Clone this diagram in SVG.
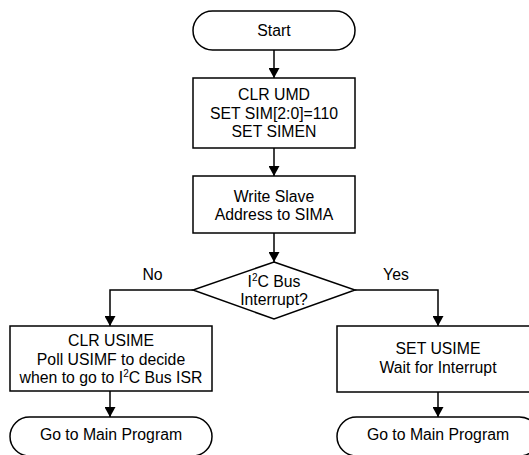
<svg xmlns="http://www.w3.org/2000/svg" width="529" height="455" viewBox="0 0 529 455">
<style>
.s{fill:#fff;stroke:#000;stroke-width:1.5}
.t{font-family:"Liberation Sans",Arial,sans-serif;font-size:15.8px;fill:#000;text-anchor:middle}
.c{fill:none;stroke:#000;stroke-width:1.5}
</style>
<defs>
<marker id="ah" markerUnits="userSpaceOnUse" markerWidth="11" markerHeight="11" refX="10" refY="5.5" orient="auto">
<path d="M0,0 L10,5.5 L0,11 z" fill="#000"/>
</marker>
</defs>
<rect width="529" height="455" fill="#fff"/>
<g id="connectors">
<line class="c" x1="274" y1="50" x2="274" y2="78" marker-end="url(#ah)"/>
<line class="c" x1="274" y1="148" x2="274" y2="176" marker-end="url(#ah)"/>
<line class="c" x1="274" y1="233" x2="274" y2="262" marker-end="url(#ah)"/>
<polyline class="c" points="193,290 110,290 110,326" marker-end="url(#ah)"/>
<polyline class="c" points="355,290 438,290 438,326" marker-end="url(#ah)"/>
<line class="c" x1="110" y1="391" x2="110" y2="417" marker-end="url(#ah)"/>
<line class="c" x1="438" y1="392" x2="438" y2="417" marker-end="url(#ah)"/>
<text class="t" x="152.5" y="280">No</text>
<text class="t" x="396" y="280">Yes</text>
</g>
<g id="start">
<rect class="s" x="193" y="11" width="162" height="39" rx="19.5"/>
<text class="t" x="274" y="36">Start</text>
</g>
<g id="init">
<rect class="s" x="193" y="78" width="162" height="70"/>
<text class="t" x="274" y="100">CLR UMD</text>
<text class="t" x="274" y="118.5">SET SIM[2:0]=110</text>
<text class="t" x="274" y="137">SET SIMEN</text>
</g>
<g id="addr">
<rect class="s" x="193" y="176" width="162" height="57"/>
<text class="t" x="274" y="201.5">Write Slave</text>
<text class="t" x="274" y="220">Address to SIMA</text>
</g>
<g id="decision">
<polygon class="s" points="274,262 355,290 274,319 193,290"/>
<text class="t" x="274" y="287">I<tspan font-size="10" dy="-6">2</tspan><tspan dy="6">C Bus</tspan></text>
<text class="t" x="274" y="305">Interrupt?</text>
</g>
<g id="poll">
<rect class="s" x="10" y="326" width="202" height="65"/>
<text class="t" x="111" y="346">CLR USIME</text>
<text class="t" x="111" y="364.5">Poll USIMF to decide</text>
<text class="t" x="111" y="383">when to go to I<tspan font-size="10" dy="-6">2</tspan><tspan dy="6">C Bus ISR</tspan></text>
</g>
<g id="wait">
<rect class="s" x="337" y="326" width="202" height="66"/>
<text class="t" x="438" y="354">SET USIME</text>
<text class="t" x="438" y="372.5">Wait for Interrupt</text>
</g>
<g id="main-left">
<rect class="s" x="10" y="417" width="202" height="39" rx="19.5"/>
<text class="t" x="111" y="440">Go to Main Program</text>
</g>
<g id="main-right">
<rect class="s" x="337" y="417" width="202" height="39" rx="19.5"/>
<text class="t" x="438" y="440">Go to Main Program</text>
</g>
</svg>
